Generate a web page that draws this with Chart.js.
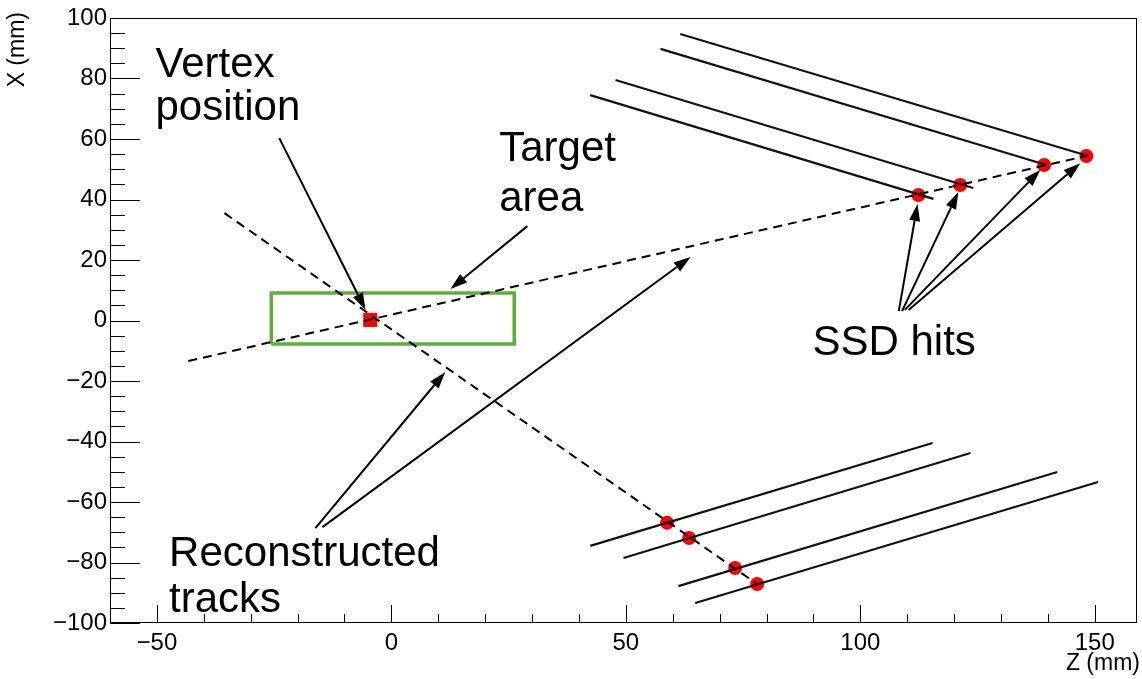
<!DOCTYPE html>
<html>
<head>
<meta charset="utf-8">
<script src="https://cdn.jsdelivr.net/npm/chart.js@4.4.0/dist/chart.umd.min.js"></script>
<style>
    html, body { margin: 0; padding: 0; background: #fff; overflow: hidden; }
    canvas { display: block; }
</style>
</head>
<body>
<canvas id="trackChart" width="1147" height="679"></canvas>
<script>
// Axis ranges and tick labels (Z horizontal, X vertical, in mm)
const zRange = [-60, 159];
const xRange = [-100, 100];
const zTicks = [-50, 0, 50, 100, 150];
const xTicks = [-100, -80, -60, -40, -20, 0, 20, 40, 60, 80, 100];

// Reconstructed tracks, [z, x]
const track1 = [[-43.3, -13.4], [148.2, 54.4]];
const track2 = [[-35.6, 35.5], [78.0, -87.1]];

// SSD hits on the tracks
const hitsUpper = [[112.4, 41.5], [121.3, 44.8], [139.2, 51.4], [148.2, 54.4]];
const hitsLower = [[58.8, -66.9], [63.5, -71.9], [73.3, -81.8], [78.0, -87.1]];

// Reconstructed vertex
const vertex = [[-4.5, 0.2]];

// SSD strip lines (start, end)
const stripsUpper = [
    [[61.6, 94.7], [148.6, 54.4]],
    [[57.4, 89.8], [139.7, 51.4]],
    [[47.8, 79.5], [124.1, 43.8]],
    [[42.4, 74.5], [115.6, 40.2]]
];
const stripsLower = [
    [[42.4, -74.5], [115.4, -40.5]],
    [[49.5, -78.5], [123.5, -43.8]],
    [[61.2, -87.8], [142.0, -50.1]],
    [[64.8, -93.4], [150.7, -53.4]]
];

// Target area corners (min, max)
const targetBox = [[-25.6, -7.8], [26.2, 9.1]];

// Annotation arrows (from, to) and labels, in data units
const arrows = [
    [[-23.9, 60.3], [-5.5, 3.5]],
    [[29.0, 31.2], [12.6, 10.4]],
    [[-16.2, -68.6], [11.5, -17.0]],
    [[-14.7, -68.3], [63.8, 21.0]],
    [[108.2, 3.1], [112.2, 38.5]],
    [[108.9, 3.1], [120.9, 42.5]],
    [[109.5, 3.5], [138.4, 49.8]],
    [[110.3, 3.5], [146.9, 52.0]]
];
const labels = [
    ['Vertex', -50.3, 80.5],
    ['position', -50.3, 66.3],
    ['Target', 23.0, 52.8],
    ['area', 23.0, 36.2],
    ['Reconstructed', -47.4, -81.0],
    ['tracks', -47.4, -96.5],
    ['SSD hits', 89.8, -11.4]
];

const FONT = '"Liberation Sans", Arial, Helvetica, sans-serif';
const pts = list => list.map(([z, x]) => ({ x: z, y: x }));
const fmt = v => (v < 0 ? '\u2212' + Math.abs(v) : String(v));

function lineSet(list, extra) {
    return Object.assign({
        data: pts(list),
        showLine: true,
        borderColor: '#000',
        borderWidth: 2,
        pointRadius: 0,
        fill: false,
        order: 1
    }, extra || {});
}

const [b0, b1] = targetBox;
const datasets = [
    { data: pts(hitsUpper.concat(hitsLower)), backgroundColor: '#f00', borderWidth: 0, pointRadius: 7, order: 5 },
    { data: pts(vertex), backgroundColor: '#f00', borderWidth: 0, pointStyle: 'rect', pointRadius: 10, order: 5 },
    lineSet([[b0[0], b0[1]], [b1[0], b0[1]], [b1[0], b1[1]], [b0[0], b1[1]], [b0[0], b0[1]]],
        { borderColor: '#5fae3a', borderWidth: 3.5, order: 2 }),
    lineSet(track1, { borderDash: [9, 6] }),
    lineSet(track2, { borderDash: [9, 6] }),
    ...stripsUpper.map(s => lineSet(s, { borderWidth: 2.2, borderColor: '#111' })),
    ...stripsLower.map(s => lineSet(s, { borderWidth: 2.2, borderColor: '#111' }))
];

// Frame, inward ticks, axis titles, arrows and labels
const decorations = {
    id: 'decorations',
    afterDraw(chart) {
        const { ctx, chartArea: a, scales: { x, y } } = chart;
        ctx.save();

        ctx.strokeStyle = '#000';
        ctx.lineWidth = 1;
        ctx.strokeRect(Math.round(a.left) + 0.5, Math.round(a.top) + 0.5,
            Math.round(a.right - a.left) - 1, Math.round(a.bottom - a.top) - 1);

        ctx.beginPath();
        for (let v = -60; v <= zRange[1]; v += 10) {
            const px = Math.round(x.getPixelForValue(v)) + 0.5;
            const len = v % 50 === 0 ? 18 : 9;
            ctx.moveTo(px, a.bottom);
            ctx.lineTo(px, a.bottom - len);
        }
        for (let v = xRange[0]; v <= xRange[1]; v += 5) {
            const py = Math.round(y.getPixelForValue(v)) + 0.5;
            const len = v % 20 === 0 ? 30 : 15;
            ctx.moveTo(a.left, py);
            ctx.lineTo(a.left + len, py);
        }
        ctx.stroke();

        // axis titles
        ctx.fillStyle = '#000';
        ctx.font = '23px ' + FONT;
        ctx.textAlign = 'right';
        ctx.textBaseline = 'alphabetic';
        ctx.fillText('Z (mm)', a.right + 3, 670);
        ctx.save();
        ctx.translate(24, a.top - 6);
        ctx.rotate(-Math.PI / 2);
        ctx.fillText('X (mm)', 0, 0);
        ctx.restore();

        // arrows
        ctx.lineWidth = 2;
        arrows.forEach(([from, to]) => {
            const x0 = x.getPixelForValue(from[0]), y0 = y.getPixelForValue(from[1]);
            const x1 = x.getPixelForValue(to[0]), y1 = y.getPixelForValue(to[1]);
            const ang = Math.atan2(y1 - y0, x1 - x0);
            const head = 17, half = 5.5;
            const bx = x1 - head * Math.cos(ang), by = y1 - head * Math.sin(ang);
            ctx.beginPath();
            ctx.moveTo(x0, y0);
            ctx.lineTo(bx, by);
            ctx.stroke();
            ctx.beginPath();
            ctx.moveTo(x1, y1);
            ctx.lineTo(bx + half * Math.sin(ang), by - half * Math.cos(ang));
            ctx.lineTo(bx - half * Math.sin(ang), by + half * Math.cos(ang));
            ctx.closePath();
            ctx.fill();
        });

        // labels
        ctx.font = '42px ' + FONT;
        ctx.textAlign = 'left';
        labels.forEach(([text, z, v]) => {
            ctx.fillText(text, x.getPixelForValue(z), y.getPixelForValue(v));
        });

        ctx.restore();
    }
};

new Chart(document.getElementById('trackChart'), {
    type: 'scatter',
    data: { datasets },
    options: {
        responsive: false,
        animation: false,
        layout: { padding: { left: 0, top: 18, right: 5, bottom: 0 } },
        plugins: { legend: { display: false }, tooltip: { enabled: false } },
        scales: {
            x: {
                type: 'linear',
                min: zRange[0],
                max: zRange[1],
                grid: { display: false, drawTicks: false },
                border: { display: false },
                afterBuildTicks: s => { s.ticks = zTicks.map(v => ({ value: v })); },
                afterFit: s => { s.height = 56; s.paddingLeft = 0; s.paddingRight = 0; },
                ticks: {
                    color: '#000',
                    padding: 6,
                    maxRotation: 0,
                    autoSkip: false,
                    font: { family: FONT, size: 24 },
                    callback: fmt
                }
            },
            y: {
                type: 'linear',
                min: xRange[0],
                max: xRange[1],
                grid: { display: false, drawTicks: false },
                border: { display: false },
                afterBuildTicks: s => { s.ticks = xTicks.map(v => ({ value: v })); },
                afterFit: s => { s.width = 110; s.paddingTop = 0; s.paddingBottom = 0; },
                ticks: {
                    color: '#000',
                    padding: 3,
                    autoSkip: false,
                    font: { family: FONT, size: 24 },
                    callback: fmt
                }
            }
        }
    },
    plugins: [decorations]
});
</script>
</body>
</html>
